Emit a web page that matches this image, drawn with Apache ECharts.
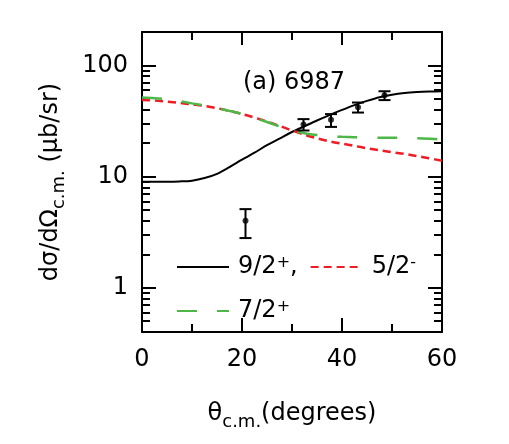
<!DOCTYPE html>
<html>
<head>
<meta charset="utf-8">
<script src="https://cdn.jsdelivr.net/npm/echarts@6/dist/echarts.min.js"></script>
<style>
html, body { margin: 0; padding: 0; background: #fff; }
#main { width: 509px; height: 444px; }
</style>
</head>
<body>
<div id="main"></div>
<script>
// 计算曲线 (角度 / 截面)
var theta = [0, 2.5, 5, 7.5, 10, 12.5, 15, 17.5, 20, 22.5, 25, 27.5, 30,
    32.5, 35, 37.5, 40, 42.5, 45, 47.5, 50, 52.5, 55, 57.5, 60];
var calc92p = [9.0, 9.0, 9.0, 9.05, 9.2, 9.7, 10.6, 12.2, 14.2, 16.4, 19.2, 22.0, 25.2,
    28.4, 32.0, 35.8, 39.8, 44.0, 48.0, 51.8, 54.6, 56.5, 57.6, 58.2, 58.5];
var calc52m = [49, 48.3, 47.2, 46.0, 44.6, 43.2, 41.3, 39.0, 36.6, 34.0, 31.3, 28.6, 26.0,
    23.8, 22.1, 20.8, 19.8, 18.9, 18.0, 17.3, 16.6, 16.0, 15.3, 14.6, 13.9];
var calc72p = [51.5, 50.8, 49.6, 47.8, 45.6, 43.6, 41.3, 39.0, 36.6, 33.8, 31.0, 28.3, 26.0,
    24.6, 23.7, 23.1, 22.8, 22.6, 22.5, 22.4, 22.4, 22.3, 22.1, 21.9, 21.6];

// 实验点
var expTheta = [20.7, 32.3, 37.8, 43.2, 48.5];
var expVal = [4.0, 29.4, 32.4, 42.0, 54.0];
var expLow = [2.8, 26.0, 28.0, 37.7, 48.8];
var expHigh = [5.1, 32.9, 36.5, 46.4, 58.6];

// 刻度
var yMajor = [1, 10, 100];
var yMinor = [0.5, 0.6, 0.7, 0.8, 0.9, 2, 3, 4, 5, 6, 7, 8, 9,
    20, 30, 40, 50, 60, 70, 80, 90, 200];

var FONT = 'DejaVu Sans';

function pairs(xs, ys) {
    var out = [];
    for (var i = 0; i < xs.length; i++) out.push([xs[i], ys[i]]);
    return out;
}

function xAx(pos, interval, len, labels) {
    return {
        type: 'value', position: pos, min: 0, max: 60, interval: interval,
        axisLine: { show: labels !== null, onZero: false, lineStyle: { color: '#000', width: 2 } },
        axisTick: { inside: true, length: len, lineStyle: { color: '#000', width: 2 } },
        axisLabel: { show: labels === true, color: '#000', fontFamily: FONT, fontSize: 24, margin: 16 },
        splitLine: { show: false }
    };
}

function yAx(pos, ticks, len, labels) {
    return {
        type: 'log', position: pos, min: 0.4, max: 200, logBase: 10,
        axisLine: { show: labels !== null, onZero: false, lineStyle: { color: '#000', width: 2 } },
        axisTick: { inside: true, length: len, customValues: ticks, lineStyle: { color: '#000', width: 2 } },
        axisLabel: { show: labels === true, customValues: yMajor, color: '#000',
            fontFamily: FONT, fontSize: 24, margin: 14 },
        splitLine: { show: false }
    };
}

var xs = [xAx('bottom', 20, 14, true), xAx('bottom', 10, 8, null),
          xAx('top', 20, 13, false), xAx('top', 10, 8, null)];
xs[0].name = '{a|θ}{b|c.m.}{a|(degrees)}';
xs[0].nameLocation = 'middle';
xs[0].nameGap = 64;
xs[0].nameTextStyle = {
    color: '#000',
    rich: {
        a: { fontFamily: FONT, fontSize: 24, color: '#000' },
        b: { fontFamily: FONT, fontSize: 18, color: '#000', verticalAlign: 'bottom', padding: [17, 0, 0, 0] }
    }
};

var ys = [yAx('left', yMajor, 14, true), yAx('left', yMinor, 8, null),
          yAx('right', yMajor, 14, false), yAx('right', yMinor, 8, null)];
ys[0].name = '{a|dσ/dΩ}{b|c.m.}{a| (μb/sr)}';
ys[0].nameLocation = 'middle';
ys[0].nameRotate = 90;
ys[0].nameGap = 74;
ys[0].nameTextStyle = xs[0].nameTextStyle;

var supRich = {
    n: { fontFamily: FONT, fontSize: 24, color: '#000' },
    s: { fontFamily: FONT, fontSize: 16, color: '#000', verticalAlign: 'top' }
};
function legendFmt(name) {
    var txt = '{n|' + name.slice(0, 3) + '}{s|' + name.slice(3) + '}';
    if (name === '9/2+') txt += '{n|,}';
    return txt;
}

var chart = echarts.init(document.getElementById('main'));
chart.setOption({
    animation: false,
    grid: { left: 142, right: 67, top: 32, bottom: 112 },
    title: {
        text: '(a) 6987', left: 238, top: 66,
        textStyle: { fontFamily: FONT, fontSize: 24, fontWeight: 'normal', color: '#000' }
    },
    legend: [
        {
            data: ['9/2+', '5/2-'], left: 176, top: 255, padding: 0,
            itemWidth: 52, itemHeight: 14, itemGap: 12,
            itemStyle: { opacity: 0 },
            formatter: legendFmt, textStyle: { rich: supRich, padding: [0, 0, 0, 4] }
        },
        {
            data: ['7/2+'], left: 176, top: 299, padding: 0,
            itemWidth: 52, itemHeight: 14,
            itemStyle: { opacity: 0 },
            formatter: legendFmt, textStyle: { rich: supRich, padding: [0, 0, 0, 4] }
        }
    ],
    xAxis: xs,
    yAxis: ys,
    series: [
        {
            name: '9/2+', type: 'line', symbol: 'none', smooth: 0.3,
            data: pairs(theta, calc92p),
            lineStyle: { color: '#000', width: 2 }, itemStyle: { color: '#000' }
        },
        {
            name: '5/2-', type: 'line', symbol: 'none', smooth: 0.3,
            data: pairs(theta, calc52m),
            lineStyle: { color: '#ee1c25', width: 2.5, type: [8, 5] }, itemStyle: { color: '#ee1c25' }
        },
        {
            name: '7/2+', type: 'line', symbol: 'none', smooth: 0.3,
            data: pairs(theta, calc72p),
            lineStyle: { color: '#4db848', width: 2.5, type: [20, 20] }, itemStyle: { color: '#4db848' }
        },
        {
            type: 'custom',
            data: expTheta.map(function (t, i) { return [t, expLow[i], expHigh[i]]; }),
            renderItem: function (params, api) {
                var lo = api.coord([api.value(0), api.value(1)]);
                var hi = api.coord([api.value(0), api.value(2)]);
                var w = 6;
                return {
                    type: 'group',
                    children: [
                        { type: 'line', shape: { x1: lo[0], y1: lo[1], x2: hi[0], y2: hi[1] }, style: { stroke: '#000', lineWidth: 2 } },
                        { type: 'line', shape: { x1: lo[0] - w, y1: lo[1], x2: lo[0] + w, y2: lo[1] }, style: { stroke: '#000', lineWidth: 2 } },
                        { type: 'line', shape: { x1: hi[0] - w, y1: hi[1], x2: hi[0] + w, y2: hi[1] }, style: { stroke: '#000', lineWidth: 2 } }
                    ]
                };
            },
            z: 5
        },
        {
            type: 'scatter', symbol: 'circle', symbolSize: 6,
            data: pairs(expTheta, expVal),
            itemStyle: { color: '#000' }, z: 6
        }
    ]
});
</script>
</body>
</html>
